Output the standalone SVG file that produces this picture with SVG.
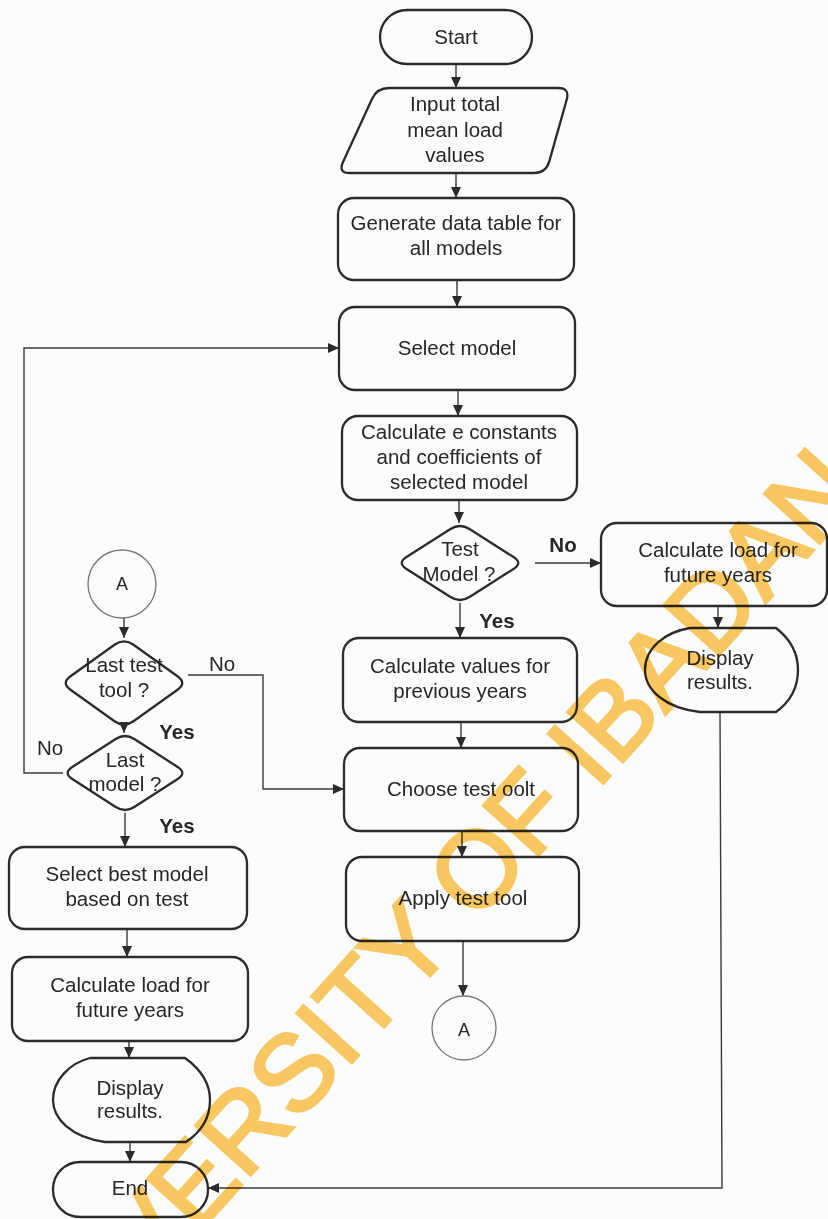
<svg xmlns="http://www.w3.org/2000/svg" width="828" height="1219" viewBox="0 0 828 1219">
<defs>
<style>
.n{fill:none;stroke:#2b2b2b;stroke-width:2.3;stroke-linejoin:round}
.c{fill:none;stroke:#777;stroke-width:1.3}
.t{font-family:"Liberation Sans",Arial,sans-serif;font-size:20.5px;fill:#262626;text-anchor:middle}
.b{font-weight:bold}
.l{fill:none;stroke:#3a3a3a;stroke-width:1.4}
.wm{font-family:"Liberation Sans",Arial,sans-serif;font-size:108px;fill:#FCCA62;stroke:#FCCA62;stroke-width:3;mix-blend-mode:multiply}
</style>
<marker id="ah" markerUnits="userSpaceOnUse" markerWidth="12" markerHeight="10" refX="11" refY="5" orient="auto">
<path d="M0,0 L11,5 L0,10 Z" fill="#2b2b2b"/>
</marker>
</defs>
<rect width="828" height="1219" fill="#fbfcfc"/>

<g id="connectors">
<path class="l" marker-end="url(#ah)" d="M456,64 L456,88"/>
<path class="l" marker-end="url(#ah)" d="M456,173 L456,198"/>
<path class="l" marker-end="url(#ah)" d="M457,280 L457,307"/>
<path class="l" marker-end="url(#ah)" d="M458,390 L458,416"/>
<path class="l" marker-end="url(#ah)" d="M459,500 L459,523"/>
<path class="l" marker-end="url(#ah)" d="M535,563 L601,563"/>
<path class="l" marker-end="url(#ah)" d="M718,606 L718,628"/>
<path class="l" marker-end="url(#ah)" d="M720,712 L722,1188 L208,1188"/>
<path class="l" marker-end="url(#ah)" d="M460,603 L460,638"/>
<path class="l" marker-end="url(#ah)" d="M461,722 L461,748"/>
<path class="l" marker-end="url(#ah)" d="M462,831 L462,857"/>
<path class="l" marker-end="url(#ah)" d="M463,941 L463,996"/>
<path class="l" marker-end="url(#ah)" d="M124,618 L124,638"/>
<path class="l" marker-end="url(#ah)" d="M124,724 L124,733"/>
<path class="l" marker-end="url(#ah)" d="M188,675 L263,675 L263,789 L344,789"/>
<path class="l" marker-end="url(#ah)" d="M63,773 L24,773 L24,348 L339,348"/>
<path class="l" marker-end="url(#ah)" d="M125,813 L125,847"/>
<path class="l" marker-end="url(#ah)" d="M127,929 L127,957"/>
<path class="l" marker-end="url(#ah)" d="M129,1041 L129,1058"/>
<path class="l" marker-end="url(#ah)" d="M130,1142 L130,1162"/>
<text class="t b" x="563" y="552">No</text>
<text class="t b" x="497" y="628">Yes</text>
<text class="t" x="222" y="671">No</text>
<text class="t b" x="177" y="739">Yes</text>
<text class="t" x="50" y="755">No</text>
<text class="t b" x="177" y="833">Yes</text>
</g>

<g id="start">
<rect class="n" x="380" y="10" width="152" height="54" rx="27"/>
<text class="t" x="456" y="44">Start</text>
</g>
<g id="input">
<path class="n" d="M389,88 L558,88 Q570,88 566.7,99.6 L549.3,161.4 Q546,173 534,173 L350,173 Q338,173 343,162.1 L372,98.9 Q377,88 389,88 Z"/>
<text class="t" x="455" y="111">Input total</text>
<text class="t" x="455" y="137">mean load</text>
<text class="t" x="455" y="162">values</text>
</g>
<g id="generate">
<rect class="n" x="338" y="198" width="236" height="82" rx="16"/>
<text class="t" x="456" y="230">Generate data table for</text>
<text class="t" x="456" y="255">all models</text>
</g>
<g id="select-model">
<rect class="n" x="339" y="307" width="236" height="83" rx="16"/>
<text class="t" x="457" y="355">Select model</text>
</g>
<g id="calc-constants">
<rect class="n" x="342" y="416" width="235" height="84" rx="16"/>
<text class="t" x="459" y="439">Calculate e constants</text>
<text class="t" x="459" y="464">and coefficients of</text>
<text class="t" x="459" y="489">selected model</text>
</g>
<g id="test-model">
<path class="n" d="M469.5,529 L513.5,557 Q523,563 513.5,569 L469.5,597 Q460,603 450.5,597 L406.5,569 Q397,563 406.5,557 L450.5,529 Q460,523 469.5,529 Z"/>
<text class="t" x="460" y="556">Test</text>
<text class="t" x="459" y="581">Model ?</text>
</g>
<g id="calc-load-right">
<rect class="n" x="601" y="523" width="226" height="83" rx="16"/>
<text class="t" x="718" y="557">Calculate load for</text>
<text class="t" x="718" y="582">future years</text>
</g>
<g id="display-right">
<path class="n" d="M690,628 L776,628 Q798,645 798,670 Q798,696 776,712 L700,712 C665,708 645,690 645,670 C645,648 665,632 690,628 Z"/>
<text class="t" x="720" y="665">Display</text>
<text class="t" x="720" y="689">results.</text>
</g>
<g id="calc-values">
<rect class="n" x="343" y="638" width="234" height="84" rx="16"/>
<text class="t" x="460" y="673">Calculate values for</text>
<text class="t" x="460" y="698">previous years</text>
</g>
<g id="choose-test">
<rect class="n" x="344" y="748" width="234" height="83" rx="16"/>
<text class="t" x="461" y="796">Choose test oolt</text>
</g>
<g id="apply-test">
<rect class="n" x="346" y="857" width="233" height="84" rx="16"/>
<text class="t" x="463" y="905">Apply test tool</text>
</g>
<g id="connector-a-bottom">
<circle class="c" cx="464" cy="1028" r="32"/>
<text class="t" x="464" y="1036" style="font-size:18px">A</text>
</g>
<g id="connector-a-top">
<circle class="c" cx="122" cy="584" r="34"/>
<text class="t" x="122" y="590" style="font-size:18px">A</text>
</g>
<g id="last-test-tool">
<path class="n" d="M133.5,644.75 L177.5,676.25 Q187,683 177.5,689.75 L133.5,721.25 Q124,728 114.5,721.25 L70.5,689.75 Q61,683 70.5,676.25 L114.5,644.75 Q124,638 133.5,644.75 Z"/>
<text class="t" x="124" y="672">Last test</text>
<text class="t" x="124" y="697">tool ?</text>
</g>
<g id="last-model">
<path class="n" d="M134.3,739 L177.7,767 Q187,773 177.7,779 L134.3,807 Q125,813 115.7,807 L72.3,779 Q63,773 72.3,767 L115.7,739 Q125,733 134.3,739 Z"/>
<text class="t" x="125" y="767">Last</text>
<text class="t" x="125" y="791">model ?</text>
</g>
<g id="select-best">
<rect class="n" x="9" y="847" width="238" height="82" rx="16"/>
<text class="t" x="127" y="881">Select best model</text>
<text class="t" x="127" y="906">based on test</text>
</g>
<g id="calc-load-left">
<rect class="n" x="12" y="957" width="236" height="84" rx="16"/>
<text class="t" x="130" y="992">Calculate load for</text>
<text class="t" x="130" y="1017">future years</text>
</g>
<g id="display-left">
<path class="n" d="M90,1058 L185,1058 Q210,1076 210,1100 Q210,1126 186,1142 L105,1142 C70,1137 53,1118 53,1100 C53,1080 70,1063 90,1058 Z"/>
<text class="t" x="130" y="1095">Display</text>
<text class="t" x="130" y="1118">results.</text>
</g>
<g id="end">
<rect class="n" x="53" y="1162" width="155" height="55" rx="27"/>
<text class="t" x="130" y="1195">End</text>
</g>

<text class="wm" x="24" y="1427" transform="rotate(-48 24 1427)">UNIVERSITY OF IBADAN</text>
</svg>
